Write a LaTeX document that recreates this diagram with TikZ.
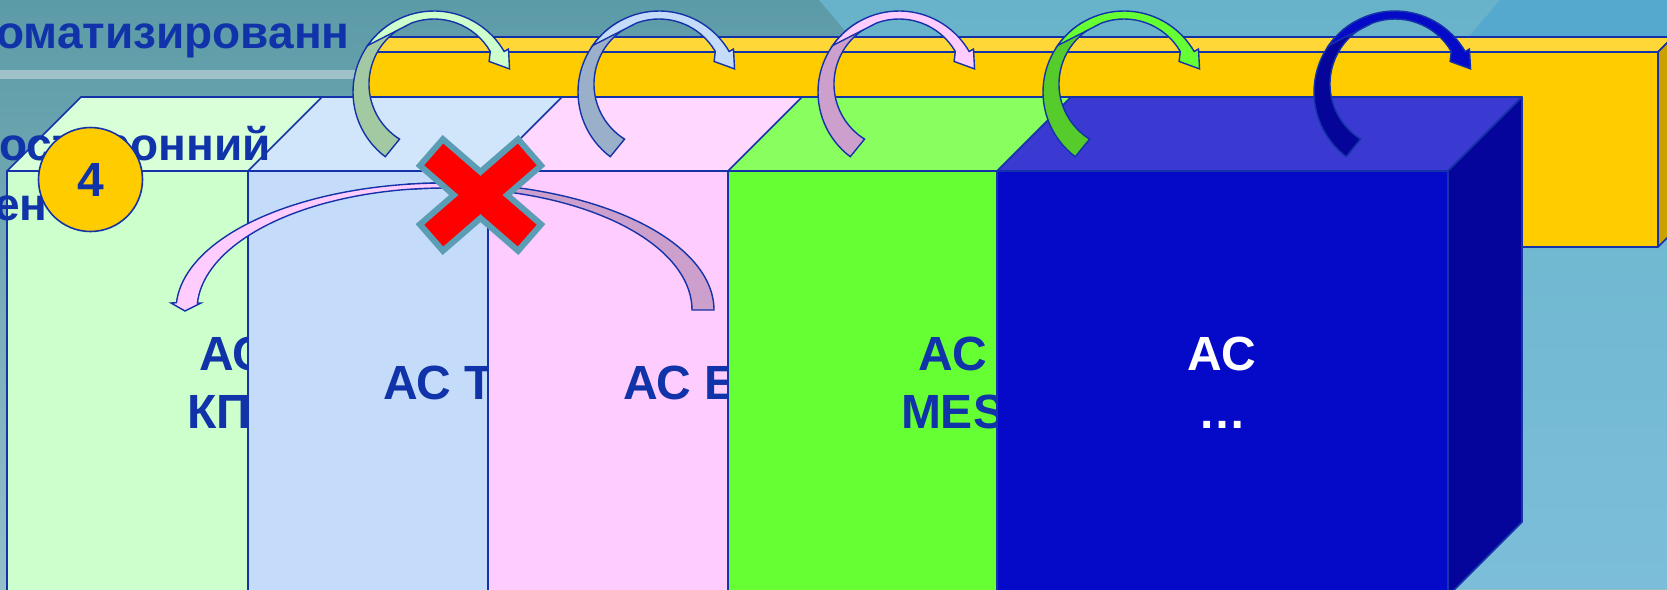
\documentclass[tikz,border=0pt]{standalone}
\usepackage{fontspec}
\setmainfont{Liberation Sans}
\usetikzlibrary{calc}

\definecolor{navyline}{HTML}{1433A8}
\definecolor{labelblue}{HTML}{1133AA}
\definecolor{bgtop}{HTML}{5B9BA7}
\definecolor{bgbot}{HTML}{95BFC9}
\definecolor{skytop}{HTML}{68B3CA}
\definecolor{skybot}{HTML}{7CBEDA}
\definecolor{skydeep}{HTML}{55A9CF}
\definecolor{stripe}{HTML}{9FC2C9}
\definecolor{barfront}{HTML}{FFCC00}
\definecolor{bartop}{HTML}{FFD838}
\definecolor{barside}{HTML}{C9A200}
\definecolor{kpF}{HTML}{CCFFCC}
\definecolor{kpT}{HTML}{D8FFD8}
\definecolor{toF}{HTML}{C4DCF9}
\definecolor{toT}{HTML}{D1E5FB}
\definecolor{erF}{HTML}{FFCCFF}
\definecolor{erT}{HTML}{FFD7FF}
\definecolor{mesF}{HTML}{66FF33}
\definecolor{mesT}{HTML}{88FF5E}
\definecolor{etcF}{HTML}{0509C8}
\definecolor{etcT}{HTML}{3A3AD2}
\definecolor{etcS}{HTML}{05059B}
\definecolor{legA}{HTML}{A3C9A3}
\definecolor{legB}{HTML}{9AAFCA}
\definecolor{legC}{HTML}{CC9FCC}
\definecolor{legD}{HTML}{55CC2C}
\definecolor{legE}{HTML}{050599}
\definecolor{gold}{HTML}{FFCC00}
\definecolor{xrim}{HTML}{5C9DB6}

\begin{document}
\begin{tikzpicture}[
  x=1pt, y=-1pt,
  edge/.style={draw=navyline, line width=1.6pt, line join=round},
  band/.style={draw=navyline, line width=1.4pt, line join=miter},
  lbl/.style={font=\fontsize{48}{56}\selectfont\bfseries, text=labelblue, inner sep=0pt},
  heading/.style={font=\fontsize{46}{54}\selectfont\bfseries, text=labelblue, inner sep=0pt},
  numdisc/.style={circle, draw=navyline, line width=1.6pt, fill=gold, minimum size=104pt, inner sep=0pt,
    font=\fontsize{48}{56}\selectfont\bfseries, text=labelblue},
  xmark/.style={fill=red, draw=xrim, line width=6pt, line join=miter}
]
\useasboundingbox (0,0) rectangle (1667,589);
\clip (0,0) rectangle (1667,589);

% ---------- Slide background ----------
\shade[top color=bgtop, bottom color=bgbot] (0,0) rectangle (1667,589);
\shade[top color=skytop, bottom color=skybot] (819,0) -- (1667,0) -- (1667,589) -- (1322,589) -- cycle;
\fill[skydeep] (1500,0) -- (1667,0) -- (1667,45) -- (1462,45) -- cycle;
\fill[stripe] (0,70) rectangle (420,79);
\node[heading, anchor=base west] (title) at (-4,48) {оматизированн};

% ---------- Yellow bar ----------
\filldraw[edge, fill=barfront] (365,52) rectangle (1658,247);
\filldraw[edge, fill=bartop] (365,52) -- (380,37) -- (1673,37) -- (1658,52) -- cycle;
\filldraw[edge, fill=barside] (1658,52) -- (1673,37) -- (1673,232) -- (1658,247) -- cycle;

% ---------- Boxes ----------
\filldraw[edge, fill=kpT] (7,171) -- (81,97) -- (532,97) -- (458,171) -- cycle;
\filldraw[edge, fill=kpF] (7,171) rectangle (458,596);
\node[lbl, anchor=base west] (kp1) at (199,370) {АС};
\node[lbl, anchor=base west] (kp2) at (187,428) {КП};

\filldraw[edge, fill=toT] (248,171) -- (322,97) -- (773,97) -- (699,171) -- cycle;
\filldraw[edge, fill=toF] (248,171) rectangle (699,596);
\node[lbl, anchor=base west] (to1) at (383,399) {АС Т};

\filldraw[edge, fill=erT] (488,171) -- (562,97) -- (1013,97) -- (939,171) -- cycle;
\filldraw[edge, fill=erF] (488,171) rectangle (939,596);
\node[lbl, anchor=base west] (er1) at (623,399) {АС Е};

\filldraw[edge, fill=mesT] (728,171) -- (802,97) -- (1253,97) -- (1179,171) -- cycle;
\filldraw[edge, fill=mesF] (728,171) rectangle (1179,596);
\node[lbl, anchor=base] (mes1) at (953,370) {АС};
\node[lbl, anchor=base] (mes2) at (953,428) {MES};

\filldraw[edge, fill=etcT] (997,171) -- (1071,97) -- (1522,97) -- (1448,171) -- cycle;
\filldraw[edge, fill=etcF] (997,171) rectangle (1448,596);
\filldraw[edge, fill=etcS] (1448,171) -- (1522,97) -- (1522,522) -- (1448,596) -- cycle;
\node[lbl, text=white, anchor=base] (etc1) at (1222,370) {АС};
\node[lbl, text=white, anchor=base] (etc2) at (1222,428) {…};

% ---------- Curved arrows over the boxes ----------
\foreach \dx/\legc/\topc in {0/legA/kpF, 225/legB/toF, 465/legC/erF, 690/legD/mesF, 961/legE/etcF}{
  \begin{scope}[shift={(\dx,0)}]
    \filldraw[band, fill=\legc] (434,92) ++(127:81) arc[start angle=127, end angle=240, radius=81]
      -- ($(434,84)+(240:65)$) arc[start angle=240, end angle=122, radius=65] -- cycle;
    \filldraw[band, fill=\topc] (434,92) ++(215:81) arc[start angle=215, end angle=330, radius=81]
      -- ($(434,92)+(330:86)$) -- ($(434,92)+(343:79)$) -- ($(434,92)+(331:63)$)
      -- ($(434,84)+(330:65)$) arc[start angle=330, end angle=250, radius=65] -- cycle;
  \end{scope}
}

% ---------- Side text and number ----------
\node[heading, anchor=base west] (side1) at (-1,160) {осторонний};
\node[heading, anchor=base west] (side2) at (-6,220) {ен};
\node[numdisc] (num) at (90.5,179.5) {4};

% ---------- Blocked link ----------
\filldraw[band, fill=legC] (445,310) ++(0:269 and 127) arc[start angle=0, end angle=-98, x radius=269, y radius=127]
  -- ($(445,310)+(-98:247 and 122)$) arc[start angle=-98, end angle=0, x radius=247, y radius=122] -- cycle;
\filldraw[band, fill=erF] (445,310) ++(-85:269 and 127) arc[start angle=-85, end angle=-176.7, x radius=269, y radius=127]
  -- (171,303) -- (185,311) -- (201,303)
  -- ($(445,310)+(-176.7:248 and 122)$) arc[start angle=-176.7, end angle=-85, x radius=248, y radius=122] -- cycle;
\filldraw[xmark, shift={(480.5,195)}] (0,-23.2) -- (37.6,-55.8) -- (60.6,-29.4) -- (26.7,0) -- (60.6,29.4)
  -- (37.6,55.8) -- (0,23.2) -- (-37.6,55.8) -- (-60.6,29.4) -- (-26.7,0) -- (-60.6,-29.4) -- (-37.6,-55.8) -- cycle;
\end{tikzpicture}
\end{document}
